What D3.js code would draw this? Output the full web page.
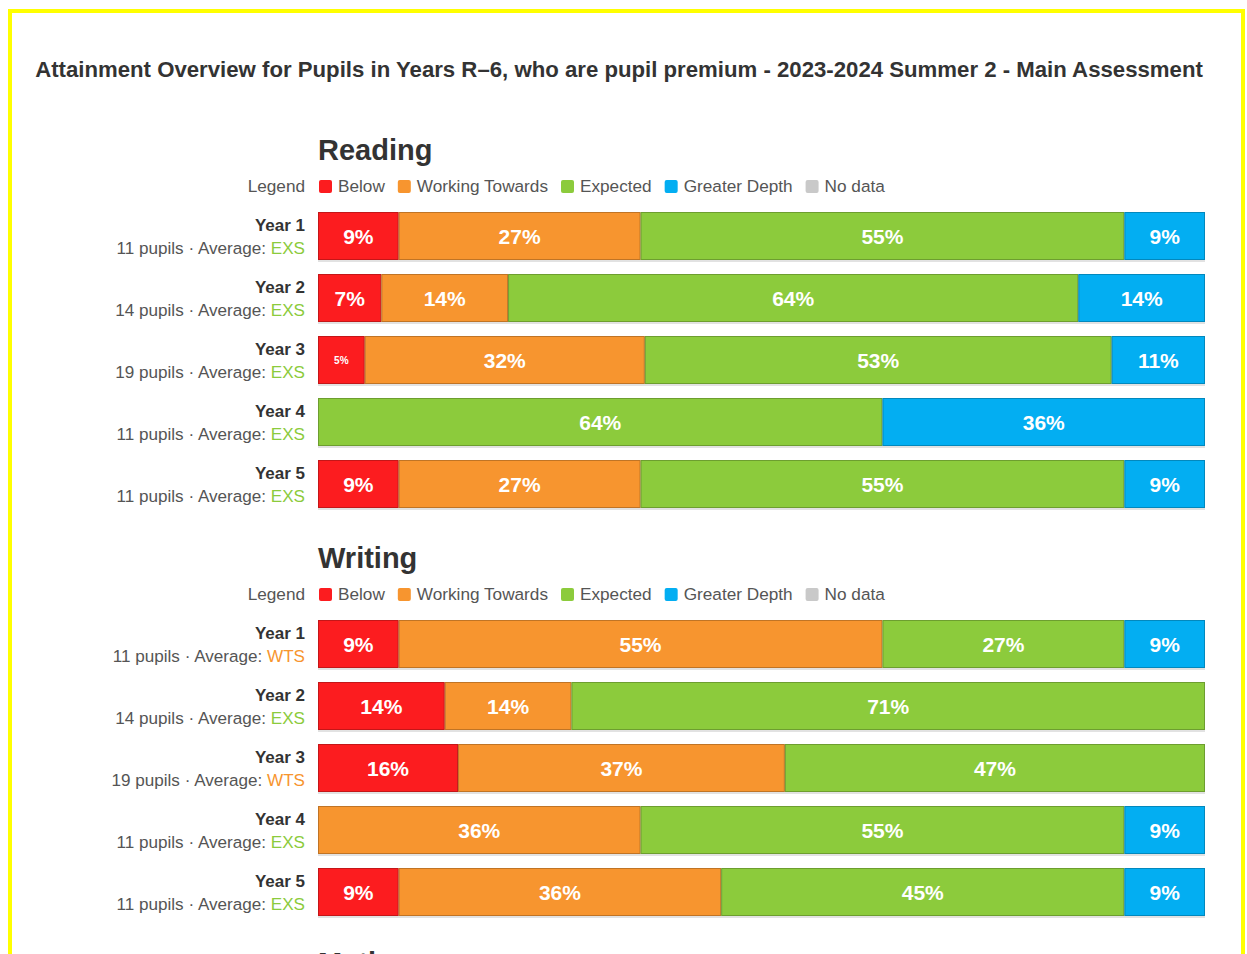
<!DOCTYPE html>
<html>
<head>
<meta charset="utf-8">
<script src="https://cdn.jsdelivr.net/npm/d3@7"></script>
<style>
  body { margin: 0; background: #fff; }
  svg { display: block; font-family: "Liberation Sans", Arial, Helvetica, sans-serif; }
</style>
</head>
<body>
<svg id="chart" width="1247" height="954"></svg>
<script>
    // data (pupil counts per level, per year)
    const title = "Attainment Overview for Pupils in Years R\u20136, who are pupil premium - 2023-2024 Summer 2 - Main Assessment";
    const years = ["Year 1", "Year 2", "Year 3", "Year 4", "Year 5"];
    const levels = ["Below", "Working Towards", "Expected", "Greater Depth", "No data"];
    const levelColors = ["#fc1c1f", "#f7952f", "#8ccb3c", "#03aef2", "#c9c9c9"];

    const readingCounts = [[1, 3, 6, 1, 0], [1, 2, 9, 2, 0], [1, 6, 10, 2, 0], [0, 0, 7, 4, 0], [1, 3, 6, 1, 0]];
    const readingAverage = ["EXS", "EXS", "EXS", "EXS", "EXS"];

    const writingCounts = [[1, 6, 3, 1, 0], [2, 2, 10, 0, 0], [3, 7, 9, 0, 0], [0, 4, 6, 1, 0], [1, 4, 5, 1, 0]];
    const writingAverage = ["WTS", "EXS", "WTS", "EXS", "EXS"];

    const averageColors = { EXS: "#8ccb3c", WTS: "#f7952f", GDS: "#03aef2", BLW: "#fc1c1f" };

    const svg = d3.select("#chart");

    // yellow frame
    svg.append("rect")
      .attr("x", 10).attr("y", 11).attr("width", 1233).attr("height", 980)
      .attr("fill", "none").attr("stroke", "#ffff00").attr("stroke-width", 4);

    svg.append("text")
      .attr("x", 619).attr("y", 77)
      .attr("text-anchor", "middle")
      .style("font-size", "22.2px").style("font-weight", "bold").style("fill", "#333")
      .text(title);

    const x = d3.scaleLinear().domain([0, 1]).range([318, 1205]);
    const color = d3.scaleOrdinal().domain(levels).range(levelColors);

    function drawSection(name, top, counts, averages) {
      const g = svg.append("g");

      g.append("text")
        .attr("x", 318).attr("y", top)
        .style("font-size", "29px").style("font-weight", "bold").style("fill", "#333")
        .text(name);

      // legend
      const ly = top + 32;
      g.append("text")
        .attr("x", 305).attr("y", ly)
        .attr("text-anchor", "end")
        .style("font-size", "17.2px").style("fill", "#555")
        .text("Legend");

      let lx = 319;
      levels.forEach((lv) => {
        g.append("rect")
          .attr("x", lx).attr("y", ly - 12).attr("width", 13).attr("height", 13)
          .attr("rx", 2).attr("fill", color(lv));
        const t = g.append("text")
          .attr("x", lx + 19).attr("y", ly)
          .style("font-size", "17.2px").style("fill", "#555")
          .text(lv);
        lx += 19 + t.node().getComputedTextLength() + 13;
      });

      const y = d3.scaleBand()
        .domain(years)
        .range([top + 52, top + 52 + 4 * 62 + 48])
        .paddingInner(14 / 62)
        .paddingOuter(0);

      years.forEach((yr, i) => {
        const row = counts[i];
        const n = d3.sum(row);
        const cy = y(yr) + y.bandwidth() / 2;

        g.append("text")
          .attr("x", 305).attr("y", cy - 5)
          .attr("text-anchor", "end")
          .style("font-size", "17px").style("font-weight", "bold").style("fill", "#333")
          .text(yr);

        const sub = g.append("text")
          .attr("x", 305).attr("y", cy + 18)
          .attr("text-anchor", "end")
          .style("font-size", "17.1px").style("fill", "#555");
        sub.append("tspan").text(n + " pupils \u00b7 Average: ");
        sub.append("tspan").style("fill", averageColors[averages[i]]).text(averages[i]);

        // faint shadow under bar
        g.append("rect")
          .attr("x", x(0)).attr("y", y(yr) + 1)
          .attr("width", x(1) - x(0)).attr("height", y.bandwidth() + 1)
          .attr("fill", "#e2e2e2");

        let acc = 0;
        const segs = row.map((c, j) => {
          const s = { level: levels[j], start: acc / n, end: (acc + c) / n, count: c, n: n };
          acc += c;
          return s;
        }).filter(s => s.count > 0);

        g.selectAll(null)
          .data(segs)
          .join("rect")
          .attr("x", d => x(d.start) + 0.5)
          .attr("y", y(yr) + 0.5)
          .attr("width", d => x(d.end) - x(d.start) - 1)
          .attr("height", y.bandwidth() - 1)
          .attr("fill", d => color(d.level))
          .attr("stroke", d => d3.color(color(d.level)).darker(0.7))
          .attr("stroke-width", 1);

        g.selectAll(null)
          .data(segs)
          .join("text")
          .attr("x", d => (x(d.start) + x(d.end)) / 2)
          .attr("y", d => (x(d.end) - x(d.start) < 50) ? cy + 4 : cy + 8)
          .attr("text-anchor", "middle")
          .style("font-size", d => (x(d.end) - x(d.start) < 50) ? "10px" : "21px")
          .style("font-weight", "bold")
          .style("fill", "#fff")
          .text(d => Math.round(d.count / d.n * 100) + "%");
      });
    }

    drawSection("Reading", 160, readingCounts, readingAverage);
    drawSection("Writing", 568, writingCounts, writingAverage);

    // next section heading, cut off by the page bottom as in the original
    svg.append("text")
      .attr("x", 318).attr("y", 973)
      .style("font-size", "29px").style("font-weight", "bold").style("fill", "#333")
      .text("Maths");
</script>
</body>
</html>
